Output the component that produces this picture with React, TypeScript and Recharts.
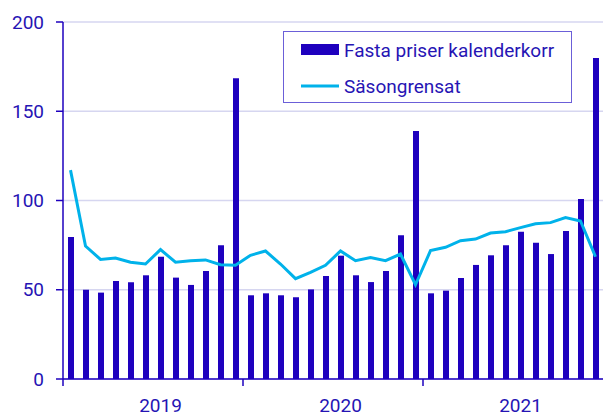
import React from "react";
import { ComposedChart, Bar, Line, XAxis, YAxis, CartesianGrid } from "recharts";

const years = ["2019", "2020", "2021"];
const monthNames = ["01", "02", "03", "04", "05", "06", "07", "08", "09", "10", "11", "12"];
const categories = years.flatMap((y) => monthNames.map((m) => `${y}M${m}`));

const fastaPriser = [
  79.5, 50.0, 48.4, 54.9, 54.2, 58.1, 68.5, 56.8, 52.7, 60.5, 74.9, 168.5,
  46.9, 48.0, 46.9, 45.8, 50.2, 57.7, 69.1, 58.1, 54.3, 60.5, 80.5, 139.0,
  48.0, 49.5, 56.6, 63.9, 69.3, 74.9, 82.5, 76.4, 70.0, 82.9, 100.8, 179.8,
];
const sasongrensat = [
  117.0, 74.5, 67.0, 67.8, 65.4, 64.4, 72.5, 65.4, 66.3, 66.7, 64.0, 63.7,
  69.3, 71.7, 64.4, 56.2, 59.8, 63.7, 71.7, 66.3, 68.0, 66.3, 70.0, 52.8,
  71.9, 73.8, 77.5, 78.4, 81.8, 82.5, 84.8, 87.0, 87.6, 90.4, 88.5, 68.5,
];
const yTicks = [0, 50, 100, 150, 200];
const yearBoundaryTicks = [0, 12, 24];
const yearLabelTicks = [6.5, 18.5, 30.5];
const seriesNames = ["Fasta priser kalenderkorr", "Säsongrensat"];

const data = categories.map((c, i) => ({
  cat: c,
  idx: i,
  fasta: fastaPriser[i],
  sas: sasongrensat[i],
}));

const DARK = "#1e00be";
const TEXT = "#2614b4";
const LIGHT = "#00b2ea";
const GRID = "#d6d6f0";
const FONT = "Roboto, 'DejaVu Sans', sans-serif";
const TS = 7;
const TM = 13;

const YearTick = (props: any) => {
  const { x, y, payload } = props;
  const v = payload.value as number;
  if (yearBoundaryTicks.includes(v)) {
    const y0 = y - TM - TS;
    return <line x1={x} x2={x} y1={y0} y2={y0 + TS} stroke={DARK} strokeWidth={1.5} />;
  }
  const k = yearLabelTicks.indexOf(v);
  return (
    <text x={x} y={y} dy="0.71em" textAnchor="middle" fill={TEXT} fontSize={19} fontFamily={FONT}>
      {years[k]}
    </text>
  );
};

const LegendBox = () => (
  <div
    style={{
      position: "absolute",
      left: 283,
      top: 31,
      width: 287,
      height: 70,
      border: "1.5px solid #6b5fd8",
      background: "#fff",
      fontFamily: FONT,
      fontSize: 19,
      color: TEXT,
      boxSizing: "content-box",
    }}
  >
    <div style={{ position: "absolute", left: 17, top: 5, height: 26, display: "flex", alignItems: "center", whiteSpace: "nowrap" }}>
      <svg width={38} height={12} style={{ marginRight: 5 }}>
        <rect x={0} y={0} width={38} height={11} fill={DARK} />
      </svg>
      <span>{seriesNames[0]}</span>
    </div>
    <div style={{ position: "absolute", left: 17, top: 41, height: 26, display: "flex", alignItems: "center", whiteSpace: "nowrap" }}>
      <svg width={38} height={12} style={{ marginRight: 5 }}>
        <line x1={0} x2={38} y1={6} y2={6} stroke={LIGHT} strokeWidth={3} />
      </svg>
      <span>{seriesNames[1]}</span>
    </div>
  </div>
);

export default function App() {
  return (
    <div style={{ position: "fixed", left: 0, top: 0, width: 603, height: 414, background: "#fff" }}>
      <ComposedChart
        width={603}
        height={414}
        data={data}
        margin={{ top: 22, right: 0, bottom: 2, left: 8 }}
        barCategoryGap={0}
      >
        <CartesianGrid horizontal vertical={false} stroke={GRID} strokeWidth={1.5} />
        <XAxis xAxisId="cat" dataKey="cat" hide height={0} />
        <XAxis
          xAxisId="yr"
          dataKey="idx"
          type="number"
          domain={[0, 36]}
          allowDataOverflow
          ticks={[0, 6.5, 12, 18.5, 24, 30.5]}
          interval={0}
          tickLine={false}
          tickSize={TS}
          tickMargin={TM}
          height={33}
          axisLine={{ stroke: DARK, strokeWidth: 1.5 }}
          tick={<YearTick />}
        />
        <YAxis
          domain={[0, 200]}
          ticks={yTicks}
          width={55}
          interval={0}
          tickSize={TS}
          tickMargin={12}
          axisLine={{ stroke: DARK, strokeWidth: 1.5 }}
          tickLine={{ stroke: DARK, strokeWidth: 1.5 }}
          tick={{ fill: TEXT, fontSize: 19, fontFamily: FONT }}
        />
        <Bar xAxisId="cat" dataKey="fasta" name={seriesNames[0]} fill={DARK} barSize={6} isAnimationActive={false} />
        <Line
          xAxisId="cat"
          dataKey="sas"
          name={seriesNames[1]}
          type="linear"
          stroke={LIGHT}
          strokeWidth={3}
          dot={false}
          isAnimationActive={false}
        />
      </ComposedChart>
      <LegendBox />
    </div>
  );
}
